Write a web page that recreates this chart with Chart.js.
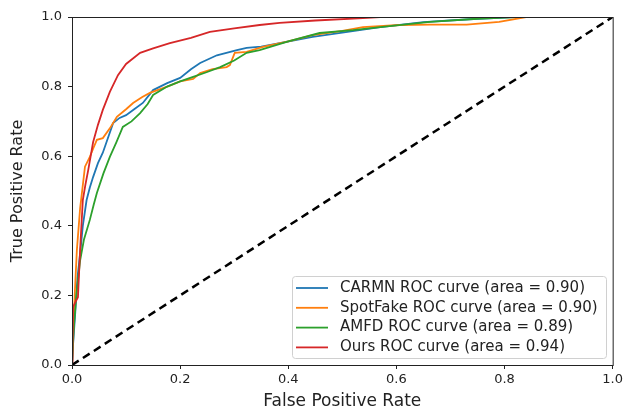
<!DOCTYPE html>
<html>
<head>
<meta charset="utf-8">
<script src="https://cdn.jsdelivr.net/npm/chart.js@4.4.1/dist/chart.umd.min.js"></script>
<style>
  html, body { margin: 0; padding: 0; background: #fff; }
  #wrap { width: 626px; height: 412px; }
</style>
</head>
<body>
<div id="wrap"><canvas id="roc" width="626" height="412"></canvas></div>
<script>
// ROC points (false positive rate / true positive rate)
var carmnFpr = [0, 0.002, 0.006, 0.01, 0.015, 0.02, 0.027, 0.033, 0.039, 0.048, 0.057, 0.066, 0.076, 0.088, 0.10, 0.115, 0.131, 0.15, 0.176, 0.2, 0.22, 0.237, 0.268, 0.305, 0.323, 0.35, 0.384, 0.445, 0.5, 0.57, 0.65, 0.75, 0.82, 1.0];
var carmnTpr = [0, 0.06, 0.15, 0.25, 0.32, 0.40, 0.474, 0.51, 0.54, 0.58, 0.61, 0.65, 0.695, 0.71, 0.718, 0.735, 0.753, 0.79, 0.81, 0.825, 0.85, 0.868, 0.89, 0.905, 0.911, 0.915, 0.925, 0.943, 0.955, 0.971, 0.985, 0.995, 1.0, 1.0];

var spotFpr = [0, 0.002, 0.005, 0.009, 0.015, 0.024, 0.033, 0.04, 0.046, 0.057, 0.07, 0.083, 0.1, 0.113, 0.13, 0.144, 0.176, 0.2, 0.224, 0.237, 0.26, 0.286, 0.292, 0.301, 0.323, 0.353, 0.4, 0.445, 0.5, 0.538, 0.606, 0.662, 0.73, 0.79, 0.84, 1.0];
var spotTpr = [0, 0.08, 0.2, 0.33, 0.45, 0.57, 0.598, 0.625, 0.647, 0.652, 0.68, 0.713, 0.735, 0.753, 0.77, 0.782, 0.80, 0.815, 0.822, 0.839, 0.85, 0.856, 0.862, 0.897, 0.9, 0.914, 0.93, 0.948, 0.96, 0.971, 0.977, 0.978, 0.978, 0.986, 1.0, 1.0];

var amfdFpr = [0, 0.003, 0.008, 0.015, 0.022, 0.033, 0.04, 0.046, 0.058, 0.07, 0.082, 0.094, 0.11, 0.126, 0.14, 0.15, 0.176, 0.2, 0.224, 0.25, 0.274, 0.3, 0.323, 0.347, 0.4, 0.458, 0.52, 0.57, 0.662, 0.75, 0.82, 1.0];
var amfdTpr = [0, 0.1, 0.2, 0.30, 0.36, 0.417, 0.46, 0.494, 0.55, 0.598, 0.64, 0.684, 0.70, 0.724, 0.75, 0.776, 0.80, 0.815, 0.828, 0.842, 0.856, 0.875, 0.897, 0.905, 0.93, 0.954, 0.962, 0.971, 0.986, 0.995, 1.0, 1.0];

var oursFpr = [0, 0.001, 0.002, 0.006, 0.011, 0.015, 0.02, 0.025, 0.03, 0.039, 0.048, 0.057, 0.07, 0.085, 0.1, 0.126, 0.15, 0.181, 0.22, 0.255, 0.3, 0.347, 0.384, 0.45, 0.538, 0.57, 1.0];
var oursTpr = [0, 0.05, 0.167, 0.18, 0.195, 0.33, 0.474, 0.52, 0.56, 0.64, 0.69, 0.733, 0.785, 0.833, 0.865, 0.897, 0.91, 0.925, 0.94, 0.957, 0.967, 0.977, 0.983, 0.99, 0.997, 1.0, 1.0];

var labels = [
    "CARMN ROC curve (area = 0.90)",
    "SpotFake ROC curve (area = 0.90)",
    "AMFD ROC curve (area = 0.89)",
    "Ours ROC curve (area = 0.94)"
];
var colors = ["#1f77b4", "#ff7f0e", "#2ca02c", "#d62728"];
var tickValues = [0, 0.2, 0.4, 0.6, 0.8, 1.0];

function toPoints(xs, ys) {
    return xs.map(function (x, i) { return { x: x, y: ys[i] }; });
}

var curves = [
    toPoints(carmnFpr, carmnTpr),
    toPoints(spotFpr, spotTpr),
    toPoints(amfdFpr, amfdTpr),
    toPoints(oursFpr, oursTpr)
];

var datasets = curves.map(function (pts, i) {
    return {
        label: labels[i],
        data: pts,
        borderColor: colors[i],
        borderWidth: 1.8,
        showLine: true,
        pointRadius: 0,
        tension: 0,
        order: 10 - i // later curves on top, like matplotlib
    };
});
// chance line
datasets.push({
    label: "chance",
    data: [{ x: 0, y: 0 }, { x: 1, y: 1 }],
    borderColor: "#000",
    borderWidth: 2.5,
    borderDash: [8, 5],
    showLine: true,
    pointRadius: 0,
    order: 0
});

// frame round the plot + legend box in the lower right
var framePlugin = {
    id: "frame",
    afterDatasetsDraw: function (chart) {
        var ctx = chart.ctx;
        var a = chart.chartArea;
        ctx.save();
        ctx.strokeStyle = "#222";
        ctx.lineWidth = 1;
        ctx.strokeRect(a.left + 0.5, a.top + 0.5, a.right - a.left, a.bottom - a.top);

        // legend
        var bx = 292, by = 276, bw = 314, bh = 82;
        ctx.fillStyle = "rgba(255,255,255,0.8)";
        ctx.strokeStyle = "#d0d0d0";
        ctx.beginPath();
        ctx.roundRect(bx + 0.5, by + 0.5, bw, bh, 3);
        ctx.fill();
        ctx.stroke();
        ctx.font = "15px 'DejaVu Sans'";
        ctx.textBaseline = "middle";
        for (var i = 0; i < labels.length; i++) {
            var yy = by + 12 + i * 19.8;
            ctx.strokeStyle = colors[i];
            ctx.lineWidth = 1.8;
            ctx.beginPath();
            ctx.moveTo(296, yy);
            ctx.lineTo(328, yy);
            ctx.stroke();
            ctx.fillStyle = "#222";
            ctx.fillText(labels[i], 340, yy);
        }
        ctx.restore();
    }
};

var tickFont = { family: "'DejaVu Sans'", size: 13 };

new Chart(document.getElementById("roc"), {
    type: "scatter",
    data: { datasets: datasets },
    options: {
        responsive: false,
        animation: false,
        layout: { padding: { top: 17, right: 12, left: 8, bottom: 0 } },
        plugins: {
            legend: { display: false },
            tooltip: { enabled: false }
        },
        scales: {
            x: {
                type: "linear",
                min: 0,
                max: 1,
                afterBuildTicks: function (axis) {
                    axis.ticks = tickValues.map(function (v) { return { value: v }; });
                },
                afterFit: function (axis) { axis.height = 47; },
                ticks: {
                    font: tickFont,
                    color: "#222",
                    padding: 3,
                    maxRotation: 0,
                    callback: function (v) { return v.toFixed(1); }
                },
                grid: { drawOnChartArea: false, tickLength: 4, color: "#222" },
                border: { color: "#222" },
                title: { display: true, text: "False Positive Rate", font: { family: "'DejaVu Sans'", size: 17 }, color: "#222", padding: { top: 2, bottom: 0 } }
            },
            y: {
                type: "linear",
                min: 0,
                max: 1,
                afterBuildTicks: function (axis) {
                    axis.ticks = tickValues.map(function (v) { return { value: v }; });
                },
                afterFit: function (axis) { axis.width = 64; },
                ticks: {
                    font: tickFont,
                    color: "#222",
                    padding: 6,
                    callback: function (v) { return v.toFixed(1); }
                },
                grid: { drawOnChartArea: false, tickLength: 4, color: "#222" },
                border: { color: "#222" },
                title: { display: true, text: "True Positive Rate", font: { family: "'DejaVu Sans'", size: 16 }, color: "#222", padding: { top: 0, bottom: 0 } }
            }
        }
    },
    plugins: [framePlugin]
});
</script>
</body>
</html>
